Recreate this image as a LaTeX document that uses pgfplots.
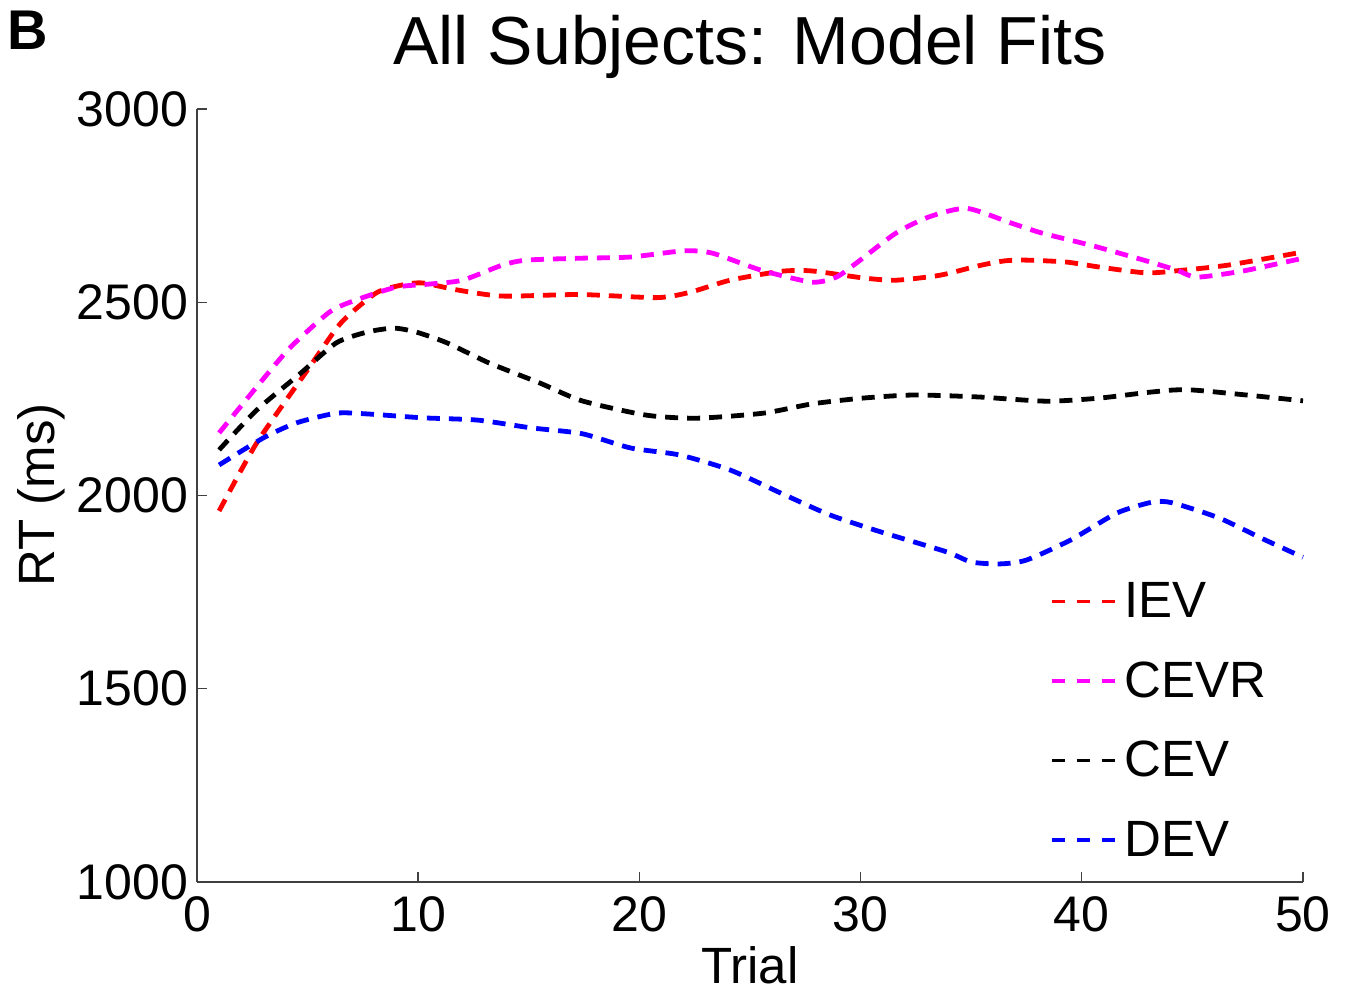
\documentclass[border=0pt]{standalone}
\usepackage{fontspec}
\setmainfont{Liberation Sans}
\usepackage{pgfplots}
\pgfplotsset{compat=1.18}
\usetikzlibrary{calc}
\definecolor{cRed}{RGB}{255,0,0}
\definecolor{cMag}{RGB}{255,0,255}
\definecolor{cBlk}{RGB}{0,0,0}
\definecolor{cBlu}{RGB}{0,0,255}
\begin{document}
\begin{tikzpicture}
\begin{axis}[
  scale only axis,
  width=553pt, height=386.5pt,
  xmin=0, xmax=50, ymin=1000, ymax=3000,
  axis x line=bottom, axis y line=left,
  axis line style={-, black!75, line width=0.7pt},
  xtick={0,10,20,30,40,50}, ytick={1000,1500,2000,2500,3000},
  tick align=inside,
  major tick length=5pt,
  tick style={black!75, line width=0.7pt},
  every tick label/.append style={font=\fontsize{25}{28}\selectfont},
  /pgf/number format/assume math mode=true,
  /pgf/number format/1000 sep={},
  yticklabel style={xshift=-1pt},
  xticklabel style={yshift=-4pt},
  clip=false,
  legend style={draw=none, fill=none, at={(0.771,0.393)}, anchor=north west,
    inner sep=0pt, font=\fontsize{25.5}{30}\selectfont, row sep=16.5pt,
    /tikz/every even column/.append style={column sep=0pt}},
  legend cell align=left,
  legend image code/.code={\draw[#1, line width=1.6pt, dash pattern=on 6.5pt off 6pt] (0pt,0pt) -- (33.5pt,0pt);},
  mystyle/.style={line width=2.4pt, dash pattern=on 6.5pt off 4.5pt, smooth, tension=0.4},
]
\coordinate (O) at (rel axis cs:0,0);
\addplot[cRed, mystyle] coordinates {(1,1960)(2.7,2136)(5,2325)(6.5,2446)(8.1,2524)(9.3,2545)(10.2,2550)(11.75,2532)(13.8,2516)(17.3,2520)(20.8,2512)(22.3,2526)(24.1,2557)(26.4,2580)(27.8,2581)(30.1,2563)(31.6,2557)(33.6,2570)(35.3,2594)(36.5,2607)(37.5,2609)(39.3,2604)(40.8,2591)(42.9,2576)(44.4,2582)(46.6,2596)(50,2630)};
\addlegendentry{IEV}
\addplot[cMag, mystyle] coordinates {(1,2162)(2.7,2281)(4.2,2382)(6,2475)(7.2,2506)(9,2539)(10.5,2547)(12,2557)(13.8,2596)(14.9,2609)(17.4,2614)(19.6,2617)(22,2633)(23.3,2627)(25.5,2583)(27.8,2552)(28.9,2565)(29.8,2601)(31.6,2679)(33.1,2721)(34.8,2743)(36.8,2705)(38.2,2679)(40.5,2646)(42.8,2609)(44.3,2583)(45.2,2565)(47.3,2581)(50,2614)};
\addlegendentry{CEVR}
\addplot[cBlk, mystyle] coordinates {(1,2118)(2.7,2221)(4.7,2317)(6.3,2395)(7.7,2423)(8.9,2433)(9.9,2423)(11.3,2395)(13.2,2343)(15.5,2291)(17.4,2245)(20.3,2208)(22.6,2200)(25.6,2213)(27.8,2237)(30.1,2252)(32.4,2260)(35.3,2255)(38.4,2244)(40.8,2252)(43.2,2268)(45,2273)(50,2245)};
\addlegendentry{CEV}
\addplot[cBlu, mystyle] coordinates {(1,2079)(3,2149)(4.5,2188)(6.3,2213)(7.7,2211)(10.2,2201)(12.7,2195)(15.1,2175)(17.4,2160)(19.6,2123)(21.8,2105)(24.1,2066)(26.4,2006)(28.6,1950)(30.9,1906)(33.9,1854)(35,1828)(36.3,1823)(37.5,1833)(39.5,1885)(41.6,1955)(43.2,1983)(44.1,1981)(46.2,1942)(48.1,1890)(50,1840)};
\addlegendentry{DEV}
\end{axis}
\node[anchor=base, font=\fontsize{34}{40}\selectfont] at ($(O)+(276.5pt,408.5pt)$) {All Subjects: Model Fits};
\node[anchor=base west, inner sep=0pt, font=\fontsize{28}{32}\selectfont\bfseries] at ($(O)+(-95pt,416pt)$) {B};
\node[anchor=base, font=\fontsize{25.5}{30}\selectfont] at ($(O)+(276.5pt,-50.5pt)$) {Trial};
\node[anchor=base, rotate=90, font=\fontsize{25.5}{30}\selectfont] at ($(O)+(-71pt,193.5pt)$) {RT (ms)};
\pgfresetboundingbox
\path[use as bounding box] ($(O)+(-98.5pt,-54.5pt)$) rectangle ++(674.5pt,495.5pt);
\end{tikzpicture}
\end{document}
